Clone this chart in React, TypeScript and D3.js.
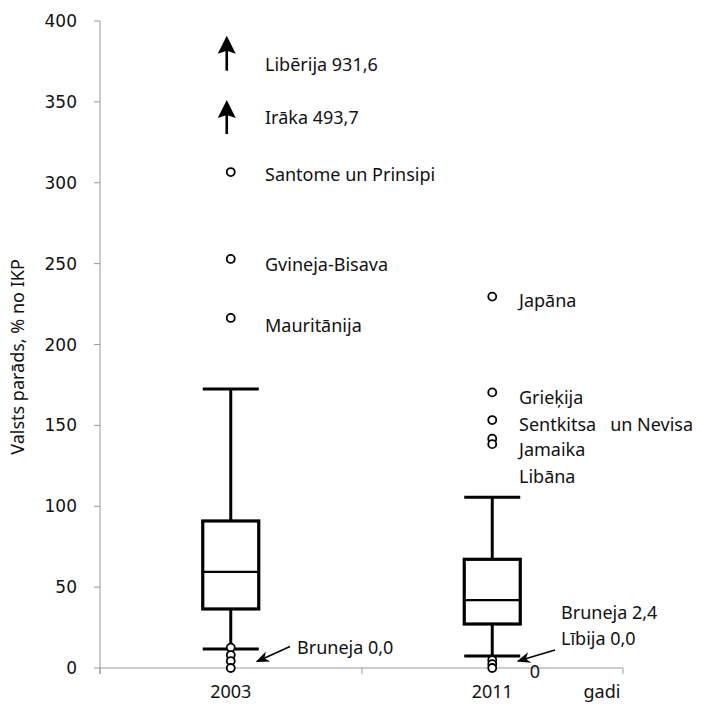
import React from "react";
import * as d3 from "d3";

// Public debt, % of GDP, by year
const years = ["2003", "2011"];
const whiskerLow = [11.7, 7.4];
const q1 = [36.5, 27.2];
const median = [59.4, 42.0];
const q3 = [90.9, 67.2];
const whiskerHigh = [172.5, 105.5];

// Named outliers (value, label)
const outliers2003 = [
  { name: "Santome un Prinsipi", value: 306.6 },
  { name: "Gvineja-Bisava", value: 252.9 },
  { name: "Mauritānija", value: 216.4 },
];
// Label position (in axis units) for the 2003 outlier names
const labelAt2003 = [305.4, 250, 212];

const outliers2011 = [
  { name: "Japāna", value: 229.6 },
  { name: "Grieķija", value: 170.4 },
  { name: "Sentkitsa   un Nevisa", value: 153.3 },
  { name: "Jamaika", value: 141.8 },
  { name: "Libāna", value: 138.4 },
];
// Label position (in axis units) for the 2011 outlier names
const labelAt2011 = [227.5, 167.5, 151, 135.5, 119];

// Low outliers
const lowPoints2003 = [12.6, 8.0, 4.3, 0.0];
const lowPoints2011 = [4.9, 2.4, 0.0];

// Off-scale values drawn as arrows (drawn between arrowFrom and arrowTo, in axis units)
const offScale = [
  { name: "Libērija 931,6", value: 931.6, arrowFrom: 369.3, arrowTo: 390.9, labelAt: 373.5 },
  { name: "Irāka 493,7", value: 493.7, arrowFrom: 330.1, arrowTo: 351.2, labelAt: 340.6 },
];

const yTicks = [0, 50, 100, 150, 200, 250, 300, 350, 400];

const W = 702;
const H = 720;
const annFont = "'Noto Sans', 'Open Sans', sans-serif";
const annSize = 18;

export default function App() {
  const y = d3.scaleLinear().domain([0, 400]).range([668, 21]);
  const x = d3.scaleBand().domain(years).range([100, 623]);
  const cx = (i: number) => (x(years[i]) as number) + x.bandwidth() / 2;
  const boxW = 56;
  const r = 4;

  const circle = (xx: number, v: number, key: string) => (
    <circle key={key} cx={xx} cy={y(v)} r={r} fill="white" stroke="black" strokeWidth={1.8} />
  );

  const label = (xx: number, yy: number, s: string, key?: string, anchor = "start") => (
    <text
      key={key}
      x={xx}
      y={yy}
      textAnchor={anchor}
      dominantBaseline="central"
      fontFamily={annFont}
      fontSize={annSize}
      fill="#111"
      style={{ whiteSpace: "pre" }}
    >
      {s}
    </text>
  );

  // arrow marking a value beyond the top of the axis
  const arrowX = cx(0) - 4;

  return (
    <svg
      width={W}
      height={H}
      style={{ position: "absolute", left: 0, top: 0, background: "white" }}
    >
      <defs>
        <marker id="arrowSmall" viewBox="0 0 10 10" refX="9" refY="5" markerWidth="9" markerHeight="9" orient="auto">
          <path d="M0,1 L10,5 L0,9 L3,5 Z" fill="black" />
        </marker>
      </defs>

      {/* y axis */}
      <line x1={100} x2={100} y1={y(400)} y2={y(0) + 6} stroke="#999" strokeWidth={1} />
      {yTicks.map((t) => (
        <g key={t}>
          <line x1={94} x2={100} y1={y(t)} y2={y(t)} stroke="#999" strokeWidth={1} />
          <text
            x={77}
            y={y(t)}
            textAnchor="end"
            dominantBaseline="central"
            fontFamily="'DejaVu Sans', sans-serif"
            fontSize={17}
            fill="#111"
          >
            {t}
          </text>
        </g>
      ))}
      <text
        transform={`translate(17,${357}) rotate(-90)`}
        textAnchor="middle"
        dominantBaseline="central"
        fontFamily={annFont}
        fontSize={annSize}
        fill="#111"
      >
        Valsts parāds, % no IKP
      </text>

      {/* x axis */}
      <line x1={100} x2={623} y1={y(0)} y2={y(0)} stroke="#999" strokeWidth={1} />
      {[100, 362, 623].map((v) => (
        <line key={v} x1={v} x2={v} y1={y(0)} y2={y(0) + 6} stroke="#999" strokeWidth={1} />
      ))}
      {years.map((yr, i) => label(cx(i), 691, yr, yr, "middle"))}
      {label(602, 691, "gadi", "gadi", "middle")}

      {/* boxes */}
      {years.map((yr, i) => {
        const c = cx(i);
        return (
          <g key={"box" + yr} stroke="black" fill="none">
            <line x1={c} x2={c} y1={y(whiskerHigh[i])} y2={y(q3[i])} strokeWidth={3} />
            <line x1={c} x2={c} y1={y(q1[i])} y2={y(whiskerLow[i])} strokeWidth={3} />
            <line x1={c - boxW / 2} x2={c + boxW / 2} y1={y(whiskerHigh[i])} y2={y(whiskerHigh[i])} strokeWidth={3} />
            <line x1={c - boxW / 2} x2={c + boxW / 2} y1={y(whiskerLow[i])} y2={y(whiskerLow[i])} strokeWidth={3} />
            <rect x={c - boxW / 2} y={y(q3[i])} width={boxW} height={y(q1[i]) - y(q3[i])} strokeWidth={3.2} fill="white" />
            <line x1={c - boxW / 2} x2={c + boxW / 2} y1={y(median[i])} y2={y(median[i])} strokeWidth={2.2} />
          </g>
        );
      })}

      {/* 2003 outliers */}
      {outliers2003.map((o, k) => (
        <g key={o.name}>
          {circle(cx(0), o.value, "c" + k)}
          {label(265, y(labelAt2003[k]), o.name)}
        </g>
      ))}
      {offScale.map((o) => {
        const tip = y(o.arrowTo);
        return (
          <g key={o.name}>
            <line x1={arrowX} x2={arrowX} y1={y(o.arrowFrom)} y2={tip + 14} stroke="black" strokeWidth={2.6} />
            <path
              d={`M${arrowX},${tip} L${arrowX + 9},${tip + 18} L${arrowX},${tip + 15} L${arrowX - 9},${tip + 18} Z`}
              fill="black"
            />
            {label(265, y(o.labelAt), o.name)}
          </g>
        );
      })}
      {lowPoints2003.map((v, k) => circle(cx(0), v, "l3" + k))}

      {/* 2011 outliers */}
      {outliers2011.map((o, k) => (
        <g key={o.name}>
          {circle(cx(1), o.value, "d" + k)}
          {label(519, y(labelAt2011[k]), o.name)}
        </g>
      ))}
      {lowPoints2011.map((v, k) => circle(cx(1), v, "l11" + k))}

      {/* low-end annotations */}
      <line x1={290} x2={257} y1={646.5} y2={661.5} stroke="black" strokeWidth={1.5} markerEnd="url(#arrowSmall)" />
      {label(297, 647, "Bruneja 0,0")}
      <line x1={555} x2={518} y1={650} y2={661} stroke="black" strokeWidth={1.5} markerEnd="url(#arrowSmall)" />
      {label(561, 612, "Bruneja 2,4")}
      {label(561, 638, "Lībija 0,0")}
      {label(535, 671, "0", "zero", "middle")}
    </svg>
  );
}
